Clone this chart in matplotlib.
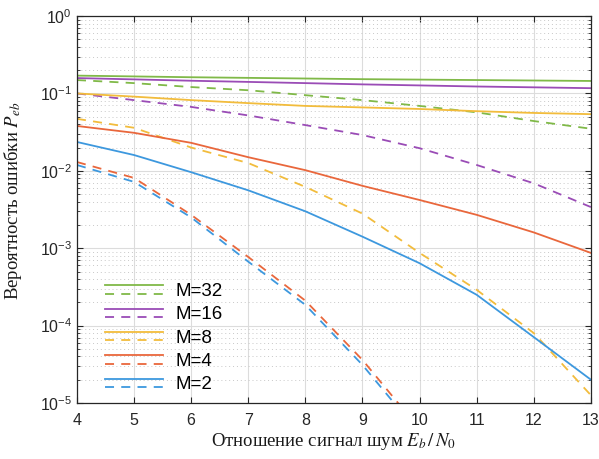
import matplotlib
matplotlib.use("Agg")
import matplotlib.pyplot as plt
import numpy as np
from matplotlib.legend_handler import HandlerBase
from matplotlib.lines import Line2D
from matplotlib.ticker import LogLocator, NullFormatter

# Eb/N0 points
snr = [4, 5, 6, 7, 8, 9, 10, 11, 12, 13]
snr_dash = [4, 5, 6, 7, 8, 9, 10]

# solid curves
m2_solid = [0.0236, 0.016, 0.0096, 0.0056, 0.0030, 0.00141, 0.00064, 0.00025, 7.1e-5, 2.0e-5]
m4_solid = [0.038, 0.031, 0.023, 0.015, 0.0102, 0.0064, 0.0042, 0.0027, 0.0016, 0.00087]
m8_solid = [0.100, 0.091, 0.082, 0.075, 0.069, 0.066, 0.063, 0.059, 0.056, 0.054]
m16_solid = [0.158, 0.152, 0.146, 0.141, 0.136, 0.131, 0.127, 0.123, 0.120, 0.117]
m32_solid = [0.170, 0.166, 0.162, 0.159, 0.156, 0.153, 0.151, 0.149, 0.147, 0.145]

# dashed curves
m2_dash = [0.0119, 0.0072, 0.0025, 0.00067, 0.000185, 3.1e-5, 4.0e-6]
m4_dash = [0.013, 0.0081, 0.0027, 0.00077, 0.00021, 3.6e-5, 4.6e-6]
m8_dash = [0.047, 0.036, 0.020, 0.0126, 0.0062, 0.0028, 0.00087, 0.00029, 8.0e-5, 1.26e-5]
m16_dash = [0.100, 0.082, 0.067, 0.052, 0.039, 0.029, 0.0196, 0.0119, 0.0069, 0.0034]
m32_dash = [0.149, 0.136, 0.121, 0.110, 0.095, 0.082, 0.069, 0.057, 0.044, 0.035]

labels = ["M=32", "M=16", "M=8", "M=4", "M=2"]
colors = ["#80B948", "#9A4CB6", "#F2BC3C", "#E9673C", "#3D98DE"]


class SolidDashHandler(HandlerBase):
    """Draw a solid line above a dashed one for each legend entry."""
    def create_artists(self, legend, orig_handle, xdescent, ydescent,
                       width, height, fontsize, trans):
        solid, dashed = orig_handle
        y = height / 2 - ydescent
        x0, x1 = -xdescent, -xdescent + width
        l1 = Line2D([x0, x1], [y + 3, y + 3], color=solid.get_color(),
                    lw=solid.get_linewidth(), linestyle="-")
        l2 = Line2D([x0, x1], [y - 3, y - 3], color=dashed.get_color(),
                    lw=dashed.get_linewidth(), linestyle=(0, (5, 4)))
        l1.set_transform(trans)
        l2.set_transform(trans)
        return [l1, l2]


plt.rcParams["font.family"] = ["Liberation Sans", "DejaVu Sans"]
plt.rcParams["mathtext.fontset"] = "stix"

fig = plt.figure(figsize=(5.99, 4.59), dpi=100)
ax = fig.add_axes([0.1285, 0.122, 0.858, 0.843])

solids = [m32_solid, m16_solid, m8_solid, m4_solid, m2_solid]
dashes = [m32_dash, m16_dash, m8_dash, m4_dash, m2_dash]
handles = []
for sol, das, c in zip(solids, dashes, colors):
    ls, = ax.semilogy(snr, sol, color=c, lw=1.3)
    xd = snr if len(das) == len(snr) else snr_dash
    ld, = ax.semilogy(xd, das, color=c, lw=1.3, linestyle=(0, (5, 4)))
    handles.append((ls, ld))

ax.set_xlim(4, 13)
ax.set_ylim(1e-5, 1)
ax.set_xticks(range(4, 14))
ax.yaxis.set_minor_locator(LogLocator(base=10, subs=np.arange(2, 10), numticks=20))
ax.yaxis.set_minor_formatter(NullFormatter())

ax.grid(True, which="major", color="#DCDCDC", lw=0.8, linestyle="-")
ax.grid(True, which="minor", axis="y", color="#C8C8C8", lw=0.7, linestyle=(0, (1, 3)))
ax.set_axisbelow(True)

ax.tick_params(which="both", direction="in", top=True, right=True,
               labelsize=11.5, colors="#262626", labelcolor="#262626")
ax.tick_params(which="major", length=4)
ax.tick_params(which="minor", length=2)
ax.tick_params(axis="x", pad=7)
for sp in ax.spines.values():
    sp.set_color("#262626")
    sp.set_linewidth(0.9)

ax.set_xlabel(r"Отношение сигнал шум $E_b\,/\,N_0$", family="Liberation Serif",
              fontsize=13.5, color="#1A1A1A", labelpad=2)
ax.set_ylabel(r"Вероятность ошибки $P_{eb}$", family="Liberation Serif",
              fontsize=13.5, color="#1A1A1A")
ax.yaxis.set_label_coords(-0.103, 0.522)

ax.legend(handles, labels, handler_map={tuple: SolidDashHandler()},
          loc="lower left", bbox_to_anchor=(0.054, 0.025), frameon=False,
          fontsize=13.5, handlelength=3.1, handletextpad=0.65,
          labelspacing=0.33, borderpad=0, borderaxespad=0)

fig.savefig("out.png", dpi=100)
